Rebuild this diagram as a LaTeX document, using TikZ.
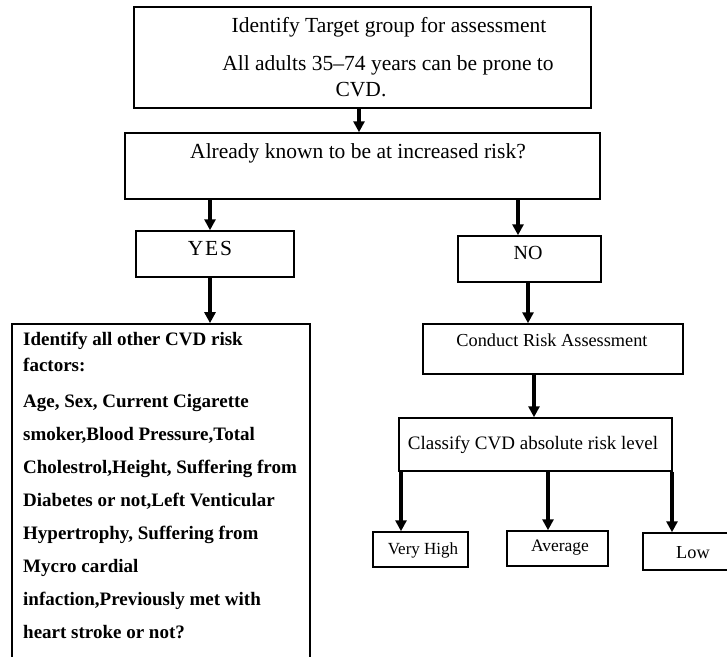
\documentclass[tikz,border=0pt]{standalone}
\usepackage{fontspec}
\setmainfont{Liberation Serif}
\usetikzlibrary{arrows.meta}
\begin{document}
\begin{tikzpicture}[x=1pt,y=-1pt,
  box/.style={draw, line width=1.5pt, inner sep=0pt},
  arr/.style={line width=3.2pt, -{Triangle[length=11pt,width=11pt]}},
  txt/.style={inner sep=0pt, font=\fontsize{21.5}{24}\selectfont},
  stxt/.style={inner sep=0pt, font=\fontsize{18.3}{21}\selectfont}]
\useasboundingbox (0,0) rectangle (727,656);
\fill[white] (0,0) rectangle (727,656);

% boxes
\node[box, minimum width=457pt, minimum height=101pt] (top) at (362.5,57.5) {};
\node[box, minimum width=475pt, minimum height=66pt] (q) at (362.5,166) {};
\node[box, minimum width=158pt, minimum height=46pt] (yes) at (215,254) {};
\node[box, minimum width=143pt, minimum height=46pt] (no) at (529.5,259) {};
\node[box, line width=1.7pt, minimum width=298pt, minimum height=334pt] (risk) at (161,491) {};
\node[box, minimum width=260pt, minimum height=50pt] (conduct) at (553,349) {};
\node[box, minimum width=273pt, minimum height=53pt] (classify) at (535.5,444.5) {};
\node[box, minimum width=95pt, minimum height=35pt] (vhigh) at (420.5,549.5) {};
\node[box, minimum width=101pt, minimum height=35pt] (avg) at (557.5,548.5) {};
\node[box, minimum width=86pt, minimum height=37pt] (low) at (686,551.5) {};

% texts
\node[txt] (t1) at (389,27) {Identify Target group for assessment};
\node[txt] (t2) at (388,65) {All adults 35–74 years can be prone to};
\node[txt] (t3) at (361,90) {CVD.};
\node[txt] (tq) at (358,153) {Already known to be at increased risk?};
\node[txt, font=\fontsize{21.5}{24}\selectfont\addfontfeatures{LetterSpace=8}] (tyes) at (210,248) {YES};
\node[txt, font=\fontsize{20}{24}\selectfont] (tno) at (528,253) {NO};
\node[stxt] (tconduct) at (552,340) {Conduct Risk Assessment};
\node[stxt, font=\fontsize{19}{21}\selectfont] (tclassify) at (533,445) {Classify CVD absolute risk level};
\node[stxt, font=\fontsize{17}{20}\selectfont] (tvhigh) at (423,550) {Very High};
\node[stxt, font=\fontsize{17.5}{20}\selectfont] (tavg) at (560,548) {Average};
\node[stxt] (tlow) at (693,553) {Low};
\node[inner sep=0pt, anchor=north west, align=left,
      font=\fontsize{19}{33}\selectfont\bfseries] (trisk) at (23,332)
  {Identify all other CVD risk\\[-7pt]
   factors:\\[3pt]
   Age, Sex, Current Cigarette\\
   smoker,Blood Pressure,Total\\
   Cholestrol,Height, Suffering from\\
   Diabetes or not,Left Venticular\\
   Hypertrophy, Suffering from\\
   Mycro cardial\\
   infaction,Previously met with\\
   heart stroke or not?};

% column coordinates
\coordinate (c1) at (359,0);
\coordinate (c2) at (210,0);
\coordinate (c3) at (518,0);
\coordinate (c4) at (528,0);
\coordinate (c5) at (534,0);
\coordinate (c6) at (401,0);
\coordinate (c7) at (548,0);
\coordinate (c8) at (672,0);

% arrows
\draw[arr] (top.south -| c1) -- (q.north -| c1);
\draw[arr] (q.south -| c2) -- (yes.north -| c2);
\draw[arr] (yes.south -| c2) -- (risk.north -| c2);
\draw[arr] (q.south -| c3) -- (no.north -| c3);
\draw[arr] (no.south -| c4) -- (conduct.north -| c4);
\draw[arr] (conduct.south -| c5) -- (classify.north -| c5);
\draw[arr] (classify.south -| c6) -- (vhigh.north -| c6);
\draw[arr] (classify.south -| c7) -- (avg.north -| c7);
\draw[arr] (classify.south -| c8) -- (low.north -| c8);
\end{tikzpicture}
\end{document}
